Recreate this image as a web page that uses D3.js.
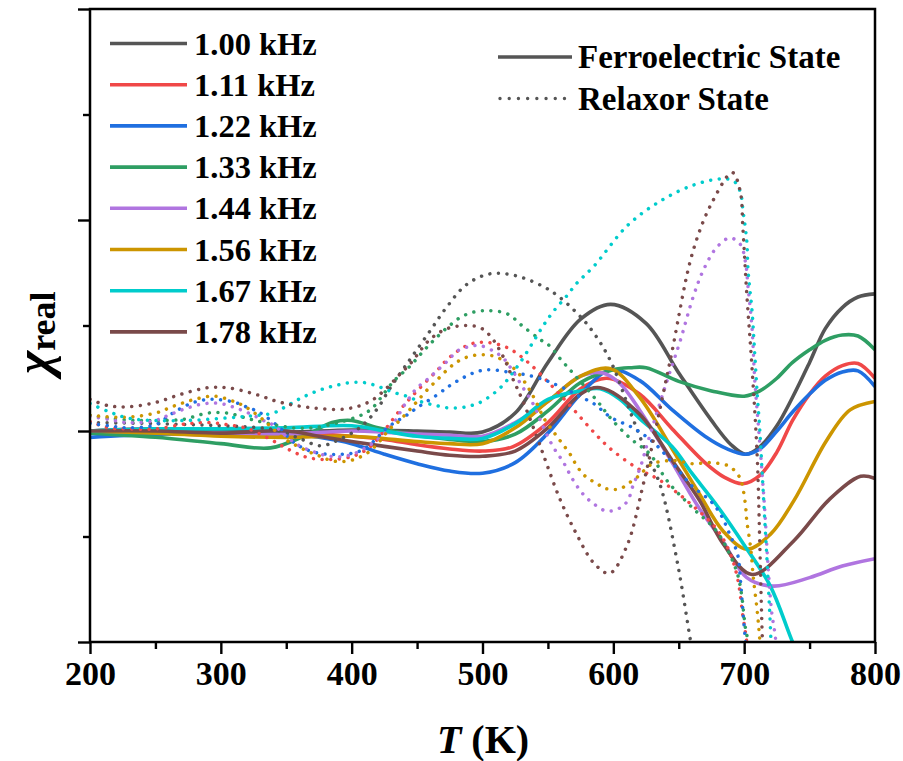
<!DOCTYPE html>
<html>
<head>
<meta charset="utf-8">
<script src="https://cdn.jsdelivr.net/npm/d3@7"></script>
<style>
  body { margin: 0; background: #fff; }
  svg { display: block; }
  text { font-family: "Liberation Serif", "Times New Roman", serif; font-weight: bold; fill: #000; }
</style>
</head>
<body>
<svg width="903" height="761"></svg>
<script>
// frequencies and colours
var freqLabels = ["1.00 kHz", "1.11 kHz", "1.22 kHz", "1.33 kHz", "1.44 kHz", "1.56 kHz", "1.67 kHz", "1.78 kHz"];
var colors = ["#555555", "#f04848", "#1f6fe0", "#2e9e63", "#b075e0", "#cc9500", "#00cccc", "#7a4a4a"];
var xTicks = [200, 300, 400, 500, 600, 700, 800];

// ferroelectric state (solid), [T, chi]
var ferro100 = [[200,0.0],[250,0.02],[300,0.0],[350,-0.01],[400,0.01],[450,0.0],[475,-0.01],[500,-0.01],[525,0.17],[550,0.65],[575,1.06],[598,1.2],[625,1.02],[650,0.55],[675,0.1],[690,-0.13],[701,-0.22],[712,-0.15],[725,0.05],[737,0.32],[750,0.65],[762,0.97],[775,1.17],[787,1.27],[800,1.3]];
var ferro111 = [[200,-0.02],[250,-0.02],[300,-0.04],[350,-0.02],[400,-0.05],[425,-0.08],[450,-0.13],[475,-0.17],[500,-0.19],[523,-0.15],[550,0.08],[575,0.4],[595,0.5],[620,0.35],[645,0.02],[670,-0.3],[685,-0.44],[699,-0.5],[712,-0.42],[725,-0.2],[737,0.1],[750,0.35],[762,0.52],[775,0.62],[787,0.64],[800,0.5]];
var ferro122 = [[200,-0.06],[250,-0.03],[300,-0.02],[350,-0.02],[375,-0.06],[400,-0.12],[425,-0.22],[450,-0.31],[475,-0.38],[500,-0.4],[525,-0.3],[550,-0.02],[575,0.35],[598,0.58],[620,0.48],[645,0.2],[670,-0.05],[687,-0.17],[701,-0.22],[712,-0.17],[725,0.0],[737,0.18],[750,0.35],[762,0.48],[775,0.56],[787,0.57],[800,0.42]];
var ferro133 = [[200,-0.02],[250,-0.06],[300,-0.12],[338,-0.16],[365,-0.04],[385,0.08],[400,0.1],[420,0.03],[450,-0.04],[475,-0.08],[500,-0.1],[525,-0.03],[550,0.19],[575,0.46],[600,0.58],[613,0.6],[625,0.6],[650,0.47],[675,0.38],[700,0.33],[712,0.38],[725,0.5],[737,0.65],[750,0.77],[762,0.86],[775,0.91],[787,0.9],[800,0.77]];
var ferro144 = [[200,0.0],[250,-0.01],[300,-0.02],[350,-0.03],[400,0.0],[450,-0.03],[475,-0.04],[500,-0.05],[525,0.08],[550,0.28],[575,0.52],[592,0.55],[605,0.45],[620,0.2],[645,-0.3],[665,-0.72],[684,-1.05],[702,-1.39],[722,-1.47],[750,-1.39],[775,-1.28],[800,-1.21]];
var ferro156 = [[200,0.0],[250,-0.02],[300,-0.05],[350,-0.06],[400,-0.05],[450,-0.1],[475,-0.12],[500,-0.12],[525,0.03],[550,0.28],[575,0.52],[598,0.59],[620,0.32],[645,-0.17],[665,-0.58],[684,-0.95],[702,-1.12],[720,-0.98],[738,-0.66],[763,-0.09],[781,0.2],[800,0.28]];
var ferro167 = [[200,0.0],[250,0.02],[300,0.02],[350,0.03],[400,0.05],[425,0.0],[450,-0.05],[475,-0.07],[500,-0.07],[525,0.07],[550,0.3],[575,0.38],[590,0.4],[605,0.3],[620,0.12],[645,-0.15],[660,-0.4],[680,-0.72],[700,-1.08],[720,-1.47],[736,-1.97],[750,-2.4]];
var ferro178 = [[200,0.0],[250,0.0],[300,-0.02],[350,0.0],[375,-0.05],[400,-0.1],[450,-0.19],[475,-0.23],[500,-0.24],[525,-0.19],[550,0.03],[575,0.35],[590,0.41],[620,0.16],[645,-0.28],[666,-0.66],[684,-1.07],[706,-1.36],[738,-1.04],[765,-0.65],[789,-0.43],[800,-0.45]];

// relaxor state (dotted), [T, chi]
var relax100 = [[200,0.08],[250,0.07],[300,0.05],[330,0.03],[345,0.0],[360,-0.07],[376,-0.14],[389,-0.09],[406,0.03],[419,0.2],[429,0.4],[439,0.58],[447,0.72],[460,0.95],[473,1.18],[488,1.39],[506,1.49],[526,1.47],[552,1.33],[572,1.12],[585,0.93],[598,0.66],[613,0.18],[625,-0.2],[636,-0.52],[649,-1.25],[659,-1.99],[666,-2.5]];
var relax111 = [[200,0.09],[214,0.03],[229,0.02],[250,0.02],[275,0.07],[290,0.08],[305,0.06],[321,0.02],[338,-0.08],[351,-0.17],[366,-0.25],[383,-0.27],[401,-0.24],[412,-0.17],[419,-0.09],[429,0.07],[439,0.23],[450,0.38],[465,0.57],[475,0.7],[490,0.82],[503,0.84],[519,0.79],[534,0.66],[552,0.44],[567,0.24],[582,0.03],[597,-0.16],[618,-0.35],[636,-0.47],[659,-0.69],[679,-0.93],[689,-1.15],[695,-1.4],[699,-1.75],[702,-2.0],[706,-2.5]];
var relax122 = [[200,0.07],[214,0.05],[229,0.03],[250,0.06],[262,0.16],[275,0.25],[285,0.29],[296,0.3],[311,0.27],[321,0.22],[329,0.18],[346,0.02],[353,-0.08],[361,-0.15],[371,-0.2],[381,-0.22],[393,-0.22],[404,-0.2],[412,-0.15],[419,-0.07],[427,0.03],[442,0.15],[450,0.22],[465,0.34],[475,0.43],[483,0.49],[491,0.54],[498,0.57],[507,0.58],[519,0.56],[534,0.53],[546,0.49],[554,0.45],[565,0.39],[572,0.34],[585,0.26],[598,0.13],[615,0.03],[630,-0.1],[645,-0.3],[660,-0.52],[674,-0.66],[682,-0.79],[689,-0.98],[695,-1.17],[697,-1.39],[699,-1.7],[701,-2.0],[704,-2.5]];
var relax133 = [[200,0.15],[215,0.12],[235,0.1],[250,0.1],[271,0.11],[290,0.17],[305,0.17],[320,0.12],[337,0.07],[355,0.03],[370,0.03],[390,0.08],[409,0.16],[416,0.22],[422,0.31],[432,0.47],[445,0.62],[455,0.76],[462,0.85],[473,0.98],[485,1.09],[500,1.14],[519,1.11],[531,0.99],[545,0.86],[552,0.8],[559,0.69],[569,0.55],[588,0.28],[598,0.12],[613,-0.07],[628,-0.22],[641,-0.47],[659,-0.71],[679,-0.95],[689,-1.17],[695,-1.36],[698,-1.55],[701,-1.87],[703,-2.0],[706,-2.5]];
var relax144 = [[200,0.14],[214,0.11],[229,0.08],[250,0.1],[262,0.16],[275,0.22],[288,0.26],[300,0.26],[311,0.22],[323,0.16],[334,0.09],[341,0.05],[350,-0.05],[360,-0.14],[374,-0.21],[384,-0.24],[394,-0.24],[401,-0.22],[409,-0.17],[419,-0.09],[429,0.03],[434,0.11],[439,0.22],[445,0.33],[450,0.41],[458,0.49],[465,0.57],[473,0.66],[481,0.76],[490,0.8],[498,0.81],[508,0.76],[516,0.69],[523,0.57],[531,0.41],[539,0.25],[546,0.05],[554,-0.15],[562,-0.3],[569,-0.46],[577,-0.6],[585,-0.69],[595,-0.76],[605,-0.73],[611,-0.66],[615,-0.52],[621,-0.33],[626,-0.12],[636,0.28],[643,0.55],[651,0.85],[661,1.27],[669,1.53],[679,1.74],[689,1.83],[697,1.77],[701,1.6],[703,1.36],[706,0.98],[708,0.5],[711,0.03],[714,-0.45],[716,-0.8],[718,-1.23],[721,-1.71],[724,-1.97],[727,-2.5]];
var relax156 = [[200,0.15],[225,0.13],[250,0.17],[265,0.24],[280,0.3],[295,0.33],[310,0.28],[320,0.22],[333,0.1],[340,0.02],[348,-0.07],[355,-0.12],[366,-0.19],[376,-0.24],[384,-0.28],[391,-0.29],[399,-0.28],[406,-0.25],[414,-0.19],[422,-0.09],[429,0.02],[435,0.08],[445,0.21],[450,0.28],[457,0.38],[465,0.48],[473,0.58],[480,0.65],[488,0.7],[496,0.72],[504,0.72],[511,0.7],[519,0.64],[526,0.57],[534,0.43],[540,0.3],[547,0.12],[555,-0.02],[561,-0.12],[567,-0.22],[572,-0.33],[577,-0.41],[582,-0.46],[588,-0.5],[592,-0.54],[598,-0.55],[605,-0.55],[611,-0.5],[618,-0.44],[623,-0.38],[630,-0.31],[646,-0.28],[661,-0.31],[674,-0.3],[688,-0.33],[693,-0.38],[697,-0.45],[699,-0.54],[701,-0.7],[702,-0.85],[705,-1.11],[707,-1.39],[710,-1.71],[712,-1.99],[715,-2.5]];
var relax167 = [[200,0.26],[215,0.18],[230,0.12],[250,0.1],[275,0.1],[300,0.12],[320,0.14],[340,0.17],[348,0.22],[355,0.27],[361,0.31],[368,0.35],[376,0.39],[384,0.42],[391,0.44],[400,0.46],[409,0.46],[416,0.44],[423,0.41],[431,0.37],[442,0.33],[450,0.29],[458,0.26],[465,0.24],[473,0.22],[483,0.22],[491,0.24],[498,0.27],[508,0.35],[516,0.44],[523,0.55],[531,0.69],[539,0.85],[546,0.99],[554,1.13],[565,1.29],[572,1.4],[585,1.56],[611,1.95],[636,2.18],[661,2.33],[682,2.39],[692,2.37],[697,2.27],[699,2.1],[702,1.8],[703,1.52],[706,1.14],[708,0.75],[710,0.35],[712,0.0],[714,-0.45],[716,-0.9],[718,-1.35],[720,-1.85],[722,-2.5]];
var relax178 = [[200,0.3],[214,0.24],[229,0.23],[250,0.27],[270,0.35],[290,0.41],[305,0.41],[326,0.35],[346,0.27],[370,0.22],[396,0.21],[414,0.28],[427,0.41],[437,0.54],[445,0.64],[460,0.87],[473,0.97],[487,1.0],[498,0.98],[506,0.9],[516,0.7],[523,0.5],[531,0.28],[542,-0.07],[549,-0.31],[559,-0.64],[572,-0.98],[585,-1.25],[597,-1.35],[610,-1.1],[623,-0.5],[643,0.64],[661,1.71],[676,2.18],[691,2.45],[697,2.27],[699,1.93],[702,1.3],[706,0.6],[710,-0.25],[712,-1.1],[714,-2.0],[716,-2.5]];

var ferroSeries = [ferro100, ferro111, ferro122, ferro133, ferro144, ferro156, ferro167, ferro178];
var relaxSeries = [relax100, relax111, relax122, relax133, relax144, relax156, relax167, relax178];

var svg = d3.select("svg");
var plotL = 90, plotR = 875, plotT = 9, plotB = 642;

var x = d3.scaleLinear().domain([200, 800]).range([plotL, plotR]);
var y = d3.scaleLinear().domain([-2, 4]).range([plotB, plotT]);

svg.append("defs").append("clipPath").attr("id", "plotClip")
  .append("rect").attr("x", plotL).attr("y", plotT).attr("width", plotR - plotL).attr("height", plotB - plotT);

var line = d3.line()
  .x(function(d) { return x(d[0]); })
  .y(function(d) { return y(d[1]); })
  .curve(d3.curveCatmullRom.alpha(0.5));

var plot = svg.append("g").attr("clip-path", "url(#plotClip)");

// solid curves first, dotted on top
plot.selectAll("path.ferro")
  .data(ferroSeries)
  .enter().append("path")
  .attr("class", "ferro")
  .attr("d", line)
  .attr("fill", "none")
  .attr("stroke", function(d, i) { return colors[i]; })
  .attr("stroke-width", 3.6);

plot.selectAll("path.relax")
  .data(relaxSeries)
  .enter().append("path")
  .attr("class", "relax")
  .attr("d", line)
  .attr("fill", "none")
  .attr("stroke", function(d, i) { return colors[i]; })
  .attr("stroke-width", 3.5)
  .attr("stroke-linecap", "round")
  .attr("stroke-dasharray", "0.01 8.6");

// axes
var xAxis = svg.append("g").attr("transform", "translate(0," + plotB + ")")
  .call(d3.axisBottom(x).tickValues(xTicks).tickSize(12).tickPadding(7).tickFormat(d3.format("d")));
svg.append("g").attr("transform", "translate(0," + plotB + ")")
  .call(d3.axisBottom(x).tickValues(d3.range(250, 800, 100)).tickSize(7).tickFormat(""));
svg.append("g").attr("transform", "translate(" + plotL + ",0)")
  .call(d3.axisLeft(y).tickValues([-2, 0, 2, 4]).tickSize(12).tickFormat(""));
svg.append("g").attr("transform", "translate(" + plotL + ",0)")
  .call(d3.axisLeft(y).tickValues([-1, 1, 3]).tickSize(7).tickFormat(""));

svg.selectAll(".domain").remove();
svg.selectAll(".tick line").attr("stroke", "#000").attr("stroke-width", 2.4);
xAxis.selectAll(".tick text")
  .style("font-size", "34px")
  .style("font-family", "'Liberation Serif', serif")
  .style("font-weight", "bold")
  .attr("fill", "#000");

svg.append("rect")
  .attr("x", plotL).attr("y", plotT)
  .attr("width", plotR - plotL).attr("height", plotB - plotT)
  .attr("fill", "none").attr("stroke", "#000").attr("stroke-width", 2.5);

// axis titles
var xt = svg.append("text").attr("x", 483).attr("y", 753).attr("text-anchor", "middle").style("font-size", "40px");
xt.append("tspan").style("font-style", "italic").text("T");
xt.append("tspan").text(" (K)");

var yt = svg.append("text").attr("transform", "translate(50,374) rotate(-90)").style("font-size", "50px");
yt.append("tspan").style("font-style", "italic").text("χ");
yt.append("tspan").attr("dy", 5).style("font-size", "36px").text("real");

// frequency legend
var leg = svg.append("g");
freqLabels.forEach(function(lab, i) {
  var ly = 43.5 + i * 41.2;
  leg.append("line").attr("x1", 110).attr("x2", 187).attr("y1", ly).attr("y2", ly)
    .attr("stroke", colors[i]).attr("stroke-width", 3.6);
  leg.append("text").attr("x", 194).attr("y", ly + 11).style("font-size", "32.5px").text(lab);
});

// state legend
var states = ["Ferroelectric State", "Relaxor State"];
states.forEach(function(lab, i) {
  var ly = 57 + i * 41.5;
  var l = leg.append("line").attr("x1", 498).attr("x2", 572).attr("y1", ly).attr("y2", ly)
    .attr("stroke", "#555555").attr("stroke-width", 3.4);
  if (i == 1) l.attr("stroke-linecap", "round").attr("stroke-dasharray", "0.01 9.2").attr("x1", 500);
  leg.append("text").attr("x", 578).attr("y", ly + 11).style("font-size", "33px").text(lab);
});
</script>
</body>
</html>
